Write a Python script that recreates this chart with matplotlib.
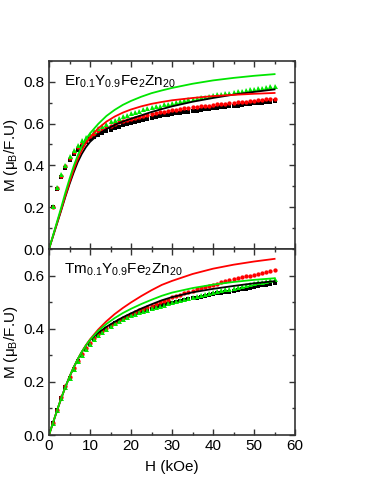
import matplotlib
matplotlib.use("Agg")
import matplotlib.pyplot as plt
from matplotlib.ticker import MultipleLocator

plt.rcParams["font.family"] = ["Liberation Sans", "DejaVu Sans"]
plt.rcParams["mathtext.fontset"] = "custom"
plt.rcParams["mathtext.rm"] = "Liberation Sans"
plt.rcParams["mathtext.it"] = "Liberation Sans:italic"

# measured field points (kOe)
h_data = list(range(1, 56))

# Er0.1Y0.9Fe2Zn20 - measured M
er_black = [0.200, 0.288, 0.343, 0.388, 0.425, 0.452, 0.475, 0.494, 0.510, 0.524,
            0.536, 0.546, 0.555, 0.563, 0.571, 0.578, 0.585, 0.591, 0.597, 0.603,
            0.608, 0.613, 0.618, 0.623, 0.627, 0.631, 0.635, 0.639, 0.642, 0.645,
            0.648, 0.651, 0.654, 0.657, 0.660, 0.662, 0.665, 0.667, 0.670, 0.672,
            0.675, 0.677, 0.679, 0.682, 0.684, 0.686, 0.689, 0.691, 0.693, 0.696,
            0.698, 0.700, 0.703, 0.705, 0.708]
er_red = [0.202, 0.292, 0.350, 0.396, 0.434, 0.463, 0.487, 0.507, 0.523, 0.538,
          0.551, 0.562, 0.572, 0.581, 0.590, 0.598, 0.605, 0.611, 0.617, 0.623,
          0.628, 0.633, 0.638, 0.642, 0.646, 0.650, 0.654, 0.657, 0.660, 0.663,
          0.666, 0.669, 0.672, 0.674, 0.677, 0.679, 0.682, 0.684, 0.686, 0.689,
          0.691, 0.693, 0.695, 0.697, 0.699, 0.701, 0.703, 0.705, 0.707, 0.709,
          0.711, 0.713, 0.715, 0.717, 0.719]
er_green = [0.205, 0.298, 0.358, 0.404, 0.444, 0.474, 0.499, 0.519, 0.535, 0.549,
            0.564, 0.577, 0.589, 0.600, 0.610, 0.619, 0.628, 0.636, 0.643, 0.650,
            0.656, 0.662, 0.667, 0.672, 0.677, 0.682, 0.686, 0.691, 0.695, 0.699,
            0.703, 0.707, 0.711, 0.715, 0.718, 0.722, 0.725, 0.729, 0.732, 0.735,
            0.739, 0.742, 0.745, 0.748, 0.751, 0.754, 0.757, 0.760, 0.763, 0.766,
            0.769, 0.772, 0.775, 0.778, 0.781]

# Er fits
h_fit = [0, 1, 2, 3, 4, 5, 6, 7, 8, 9, 10, 12, 14, 16, 18, 20, 22.5, 25, 27.5, 30,
         35, 40, 45, 50, 55]
er_fit_black = [0, 0.062, 0.124, 0.186, 0.250, 0.310, 0.365, 0.415, 0.455, 0.487,
                0.512, 0.548, 0.573, 0.593, 0.609, 0.623, 0.639, 0.655, 0.669, 0.682,
                0.704, 0.722, 0.738, 0.751, 0.763]
er_fit_red = [0, 0.063, 0.127, 0.190, 0.255, 0.318, 0.377, 0.430, 0.472, 0.506,
              0.534, 0.577, 0.609, 0.633, 0.652, 0.667, 0.682, 0.694, 0.703, 0.711,
              0.722, 0.731, 0.737, 0.742, 0.746]
er_fit_green = [0, 0.066, 0.133, 0.200, 0.270, 0.335, 0.395, 0.447, 0.490, 0.525,
                0.553, 0.598, 0.636, 0.665, 0.689, 0.708, 0.728, 0.745, 0.758, 0.770,
                0.790, 0.806, 0.818, 0.828, 0.836]

# Tm0.1Y0.9Fe2Zn20 - measured M
tm_black = [0.045, 0.094, 0.141, 0.181, 0.216, 0.249, 0.278, 0.302, 0.324, 0.343,
            0.360, 0.375, 0.388, 0.400, 0.411, 0.420, 0.428, 0.436, 0.443, 0.450,
            0.456, 0.461, 0.466, 0.471, 0.475, 0.480, 0.484, 0.488, 0.493, 0.497,
            0.501, 0.504, 0.508, 0.511, 0.514, 0.517, 0.521, 0.524, 0.527, 0.530,
            0.533, 0.535, 0.538, 0.540, 0.543, 0.546, 0.549, 0.551, 0.554, 0.557,
            0.560, 0.563, 0.565, 0.568, 0.571]
tm_red = [0.045, 0.095, 0.142, 0.183, 0.218, 0.251, 0.280, 0.305, 0.327, 0.347,
          0.364, 0.379, 0.392, 0.403, 0.413, 0.423, 0.432, 0.440, 0.448, 0.455,
          0.462, 0.469, 0.475, 0.481, 0.487, 0.493, 0.499, 0.504, 0.509, 0.518,
          0.523, 0.528, 0.533, 0.538, 0.543, 0.548, 0.552, 0.557, 0.561, 0.566,
          0.570, 0.574, 0.578, 0.582, 0.586, 0.590, 0.593, 0.597, 0.600, 0.604,
          0.607, 0.611, 0.614, 0.618, 0.621]
tm_green = [0.045, 0.094, 0.141, 0.181, 0.216, 0.249, 0.278, 0.302, 0.324, 0.343,
            0.360, 0.375, 0.388, 0.400, 0.411, 0.420, 0.428, 0.436, 0.443, 0.450,
            0.456, 0.462, 0.467, 0.472, 0.477, 0.482, 0.486, 0.491, 0.495, 0.500,
            0.504, 0.508, 0.512, 0.516, 0.519, 0.523, 0.527, 0.531, 0.534, 0.538,
            0.541, 0.544, 0.548, 0.551, 0.554, 0.557, 0.561, 0.564, 0.567, 0.571,
            0.574, 0.577, 0.581, 0.584, 0.588]

# Tm fits
tm_fit_black = [0, 0.047, 0.094, 0.139, 0.181, 0.219, 0.254, 0.285, 0.312, 0.336,
                0.357, 0.385, 0.407, 0.426, 0.443, 0.458, 0.476, 0.492, 0.507, 0.519,
                0.537, 0.550, 0.561, 0.571, 0.579]
tm_fit_red = [0, 0.047, 0.094, 0.139, 0.181, 0.219, 0.254, 0.285, 0.313, 0.338,
              0.360, 0.397, 0.428, 0.455, 0.478, 0.499, 0.523, 0.545, 0.565, 0.580,
              0.606, 0.626, 0.641, 0.653, 0.663]
tm_fit_green = [0, 0.047, 0.094, 0.139, 0.181, 0.219, 0.254, 0.285, 0.313, 0.337,
                0.358, 0.392, 0.418, 0.440, 0.459, 0.475, 0.493, 0.509, 0.524, 0.536,
                0.553, 0.566, 0.576, 0.584, 0.590]

GREEN = "#00e600"
SPINE = "#333333"

fig = plt.figure(figsize=(3.74, 4.84), dpi=100)
ax1 = fig.add_axes([0.131, 0.4855, 0.658, 0.389])
ax2 = fig.add_axes([0.131, 0.1012, 0.658, 0.3843])


def style(ax, ymax, ymajor):
    ax.set_xlim(0, 60)
    ax.set_ylim(0, ymax)
    ax.xaxis.set_major_locator(MultipleLocator(10))
    ax.xaxis.set_minor_locator(MultipleLocator(5))
    ax.yaxis.set_major_locator(MultipleLocator(ymajor))
    ax.yaxis.set_minor_locator(MultipleLocator(0.1))
    ax.tick_params(which="both", direction="in", top=True, right=True,
                   labelsize=11, color=SPINE, width=1.0, pad=3)
    ax.tick_params(which="major", length=4.5)
    ax.tick_params(which="minor", length=2.5)
    for s in ax.spines.values():
        s.set_linewidth(1.2)
        s.set_color(SPINE)
    ax.set_ylabel(r"M ($\mathregular{\mu_B}$/F.U)", fontsize=11, labelpad=3)


ms = 3.1
# top panel
ax1.plot(h_data, er_black, "s", color="black", ms=ms, mew=0)
ax1.plot(h_data, er_red, "o", color="red", ms=ms, mew=0)
ax1.plot(h_data, er_green, "^", color=GREEN, ms=ms + 0.5, mew=0)
ax1.plot(h_fit, er_fit_black, "-", color="black", lw=1.3)
ax1.plot(h_fit, er_fit_red, "-", color="red", lw=1.3)
ax1.plot(h_fit, er_fit_green, "-", color=GREEN, lw=1.3)
style(ax1, 0.9, 0.2)
ax1.tick_params(labelbottom=False)
ax1.text(0.06, 0.89, r"Er$_{0.1}$Y$_{0.9}$Fe$_2$Zn$_{20}$", transform=ax1.transAxes,
         fontsize=11, ha="left", va="center")

# bottom panel
ax2.plot(h_data, tm_black, "s", color="black", ms=ms, mew=0)
ax2.plot(h_data, tm_red, "o", color="red", ms=ms, mew=0)
ax2.plot(h_data, tm_green, "^", color=GREEN, ms=ms + 0.5, mew=0)
ax2.plot(h_fit, tm_fit_black, "-", color="black", lw=1.3)
ax2.plot(h_fit, tm_fit_red, "-", color="red", lw=1.3)
ax2.plot(h_fit, tm_fit_green, "-", color=GREEN, lw=1.3)
style(ax2, 0.7, 0.2)
ax2.set_xlabel("H (kOe)", fontsize=11, labelpad=5)
ax2.text(0.06, 0.89, r"Tm$_{0.1}$Y$_{0.9}$Fe$_2$Zn$_{20}$", transform=ax2.transAxes,
         fontsize=11, ha="left", va="center")

fig.savefig("out.png", dpi=100)
